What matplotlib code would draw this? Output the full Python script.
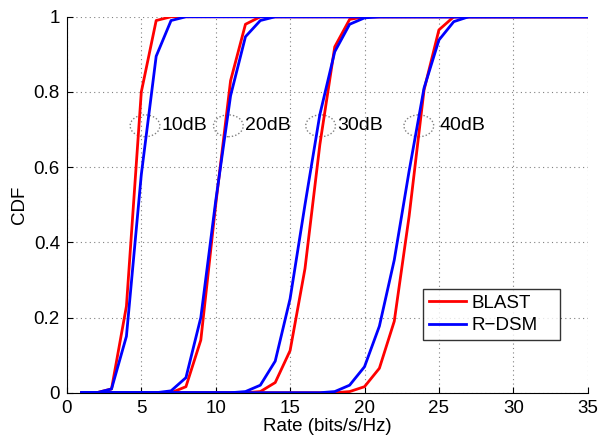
import matplotlib
matplotlib.use("Agg")
import matplotlib.pyplot as plt
from matplotlib.patches import Ellipse

plt.rcParams['font.family'] = ['Liberation Sans', 'DejaVu Sans']

rate = list(range(1, 36))

blast_10 = [0, 0, 0.01, 0.23, 0.80, 0.99, 1] + [1] * 28
rdsm_10 = [0, 0, 0.01, 0.15, 0.58, 0.895, 0.99, 1] + [1] * 27

blast_20 = [0, 0, 0, 0, 0, 0, 0, 0.016, 0.14, 0.50, 0.83, 0.98, 1] + [1] * 22
rdsm_20 = [0, 0, 0, 0, 0, 0, 0.005, 0.04, 0.20, 0.51, 0.79, 0.947, 0.99, 1] + [1] * 21

blast_30 = [0] * 12 + [0.003, 0.027, 0.112, 0.33, 0.66, 0.92, 0.993, 1] + [1] * 15
rdsm_30 = [0] * 11 + [0.003, 0.02, 0.084, 0.25, 0.50, 0.74, 0.907, 0.98, 0.997, 1] + [1] * 14

blast_40 = [0] * 18 + [0.003, 0.016, 0.065, 0.19, 0.47, 0.805, 0.965, 1.0] + [1] * 9
rdsm_40 = [0] * 17 + [0.003, 0.02, 0.069, 0.177, 0.353, 0.59, 0.81, 0.938, 0.987, 1] + [1] * 8

snr_labels = ['10dB', '20dB', '30dB', '40dB']
ellipse_x = [5.25, 10.85, 17.05, 23.65]
label_x = [6.35, 11.95, 18.2, 25.05]
label_y = 0.71

fig = plt.figure(figsize=(6, 4.41), dpi=100)
ax = fig.add_axes([0.1115, 0.1095, 0.868, 0.8525])

for i, y in enumerate([blast_10, blast_20, blast_30, blast_40]):
    ax.plot(rate, y, color='red', lw=2.0, label='BLAST' if i == 0 else None)
for i, y in enumerate([rdsm_10, rdsm_20, rdsm_30, rdsm_40]):
    ax.plot(rate, y, color='blue', lw=2.0, label='R\u2212DSM' if i == 0 else None)

for ex, lx, txt in zip(ellipse_x, label_x, snr_labels):
    ax.add_patch(Ellipse((ex, label_y), 2.0, 0.058, fill=False,
                         ls=(0, (1, 1.5)), lw=1.0, ec='gray'))
    ax.text(lx, label_y, txt, fontsize=14, va='center', ha='left')

ax.set_xlim(0, 35)
ax.set_ylim(0, 1)
ax.set_xticks([0, 5, 10, 15, 20, 25, 30, 35])
ax.set_yticks([0, 0.2, 0.4, 0.6, 0.8, 1])
ax.set_yticklabels(['0', '0.2', '0.4', '0.6', '0.8', '1'])
ax.grid(True, ls=(0, (1, 3)), color='gray', lw=0.8)
ax.tick_params(direction='in', labelsize=13.5, length=4, pad=5)
ax.spines['top'].set_visible(False)
ax.spines['right'].set_visible(False)
ax.set_xlabel('Rate (bits/s/Hz)', fontsize=13.5, labelpad=1)
ax.set_ylabel('CDF', fontsize=13.5, labelpad=4)

leg = ax.legend(loc='lower left', bbox_to_anchor=(0.684, 0.14, 0.263, 0.151),
                mode='expand', fontsize=13.5, fancybox=False, edgecolor='black',
                handlelength=2.0, borderpad=0.3, labelspacing=0.3,
                handletextpad=0.3, borderaxespad=0)
leg.get_frame().set_linewidth(1.0)

fig.savefig('out.png', dpi=100)
